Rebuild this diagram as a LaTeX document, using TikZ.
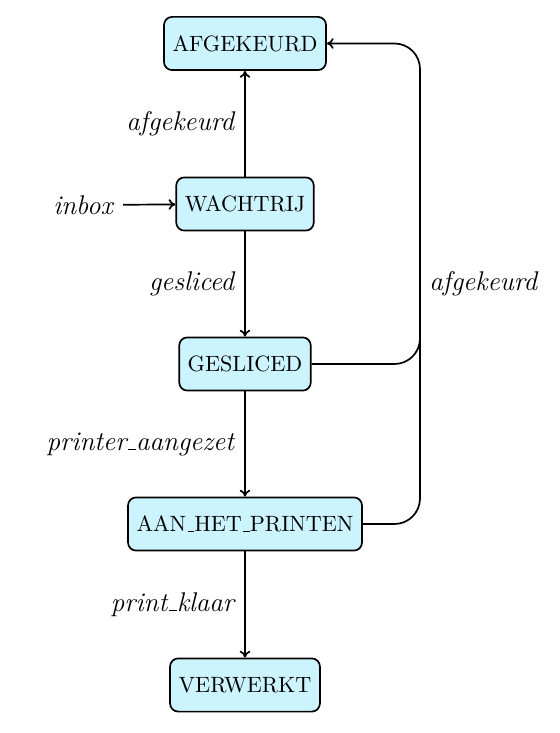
\documentclass[tikz,border=0pt]{standalone}
\usetikzlibrary{arrows.meta}
\definecolor{boxfill}{RGB}{204,244,255}
\newcommand\usc{\kern.06em\vbox{\hrule width.3em}}
\begin{document}
\begin{tikzpicture}[x=0.47pt,y=-0.47pt,
  state/.style={draw,fill=boxfill,line width=0.8pt,rounded corners=3.8pt,
    minimum height=25pt,inner xsep=4pt,font=\fontsize{10.4}{12.5}\selectfont},
  lbl/.style={font=\fontsize{12.7}{15}\selectfont\itshape,inner sep=4.7pt},
  arr/.style={line width=0.8pt,-{To[length=3.2pt,width=5pt]}},
  ln/.style={line width=0.8pt}]
\useasboundingbox (0,0) rectangle (559,733);
\node[state] (afg) at (245,43.5) {AFGEKEURD};
\node[state] (wacht) at (245,204) {WACHTRIJ};
\node[state] (ges) at (245,364) {GESLICED};
\node[state] (ahp) at (245,524) {AAN\usc HET\usc PRINTEN};
\node[state] (verw) at (245,685) {VERWERKT};
\node[lbl] (inbox) at (83,205) {inbox};
\draw[arr] (inbox) -- (wacht);
\draw[arr] (wacht) -- node[lbl,left] (l1) {afgekeurd} (afg);
\draw[arr] (wacht) -- node[lbl,left] (l2) {gesliced} (ges);
\draw[arr] (ges) -- node[lbl,left] (l3) {printer\usc aangezet} (ahp);
\draw[arr] (ahp) -- node[lbl,left] (l4) {print\usc klaar} (verw);
\coordinate (c1) at (420,524);
\coordinate (c2) at (420,43.5);
\coordinate (c3) at (420,364);
\coordinate (c4) at (420,250);
\draw[arr,rounded corners=12pt] (ahp.east) -- (c1) -- (c2) -- (afg.east);
\draw[ln,rounded corners=12pt] (ges.east) -- (c3) -- (c4);
\node[lbl,anchor=west] (l5) at (419,283.5) {afgekeurd};
\end{tikzpicture}
\end{document}
